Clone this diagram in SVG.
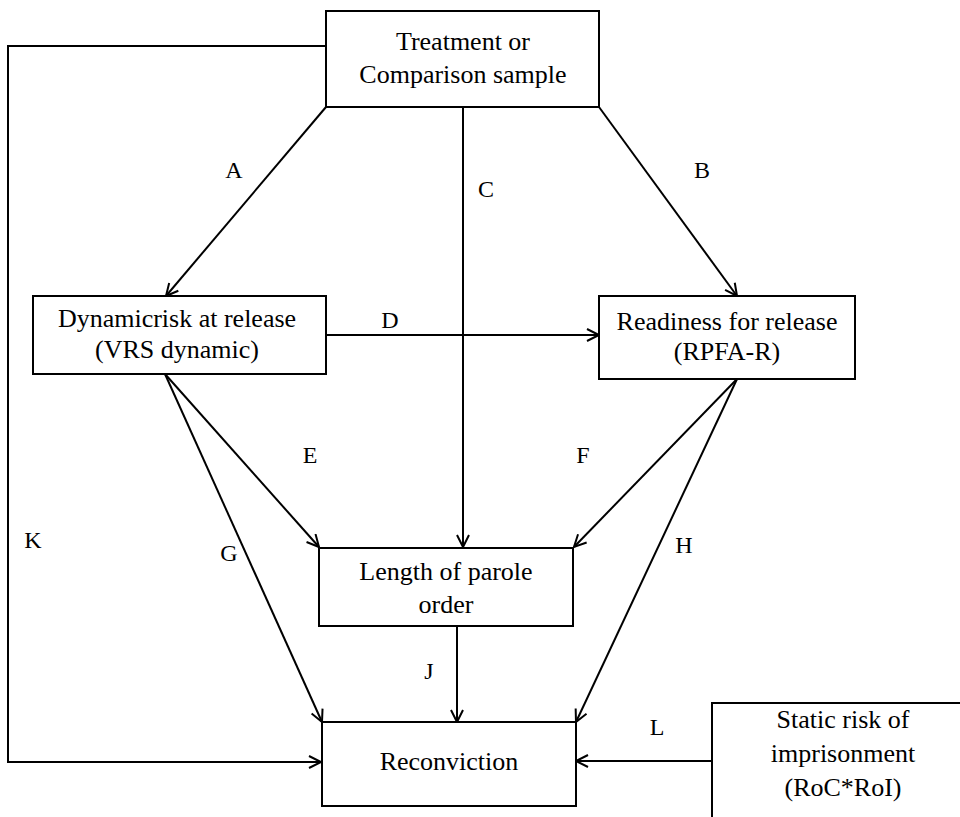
<svg xmlns="http://www.w3.org/2000/svg" width="960" height="817" viewBox="0 0 960 817">
<style>
.box{fill:#fff;stroke:#000;stroke-width:2}
text{font-family:'Liberation Serif','Times New Roman','DejaVu Serif',serif;fill:#000;text-anchor:middle}
.t{font-size:26px}
.lbl{font-size:24px}
.c{fill:none;stroke:#000;stroke-width:2;marker-end:url(#arr)}
</style>
<defs>
<marker id="arr" markerUnits="userSpaceOnUse" markerWidth="16" markerHeight="16" refX="13" refY="7" orient="auto">
<path d="M1,1 L13,7 L1,13" fill="none" stroke="#000" stroke-width="2"/>
</marker>
</defs>
<rect width="960" height="817" fill="#fff"/>
<g id="connectors" font-family="'Liberation Serif', 'DejaVu Serif', serif">
<polyline class="c" points="326,46 8,46 8,762 321,762"/>
<line class="c" x1="326" y1="107" x2="166" y2="296"/>
<line class="c" x1="599" y1="107" x2="737" y2="296"/>
<line class="c" x1="463" y1="107" x2="463" y2="547"/>
<line class="c" x1="326" y1="335" x2="599" y2="335"/>
<line class="c" x1="165" y1="374" x2="319" y2="547"/>
<line class="c" x1="165" y1="374" x2="322" y2="722"/>
<line class="c" x1="737" y1="379" x2="574" y2="547"/>
<line class="c" x1="737" y1="379" x2="576" y2="722"/>
<line class="c" x1="457" y1="626" x2="457" y2="722"/>
<line class="c" x1="712" y1="761" x2="576" y2="761"/>
<text class="lbl" x="234" y="178">A</text>
<text class="lbl" x="702" y="178">B</text>
<text class="lbl" x="486" y="197">C</text>
<text class="lbl" x="390" y="328">D</text>
<text class="lbl" x="310" y="463">E</text>
<text class="lbl" x="583" y="463">F</text>
<text class="lbl" x="33" y="548">K</text>
<text class="lbl" x="229" y="561">G</text>
<text class="lbl" x="684" y="553">H</text>
<text class="lbl" x="429" y="679">J</text>
<text class="lbl" x="657" y="735">L</text>
</g>
<g id="treatment">
<rect class="box" x="326" y="11" width="273" height="96"/>
<text class="t" x="463" y="50">Treatment or</text>
<text class="t" x="463" y="83">Comparison sample</text>
</g>
<g id="dynamic">
<rect class="box" x="33" y="296" width="293" height="78"/>
<text class="t" x="177" y="327">Dynamicrisk at release</text>
<text class="t" x="177" y="358">(VRS dynamic)</text>
</g>
<g id="readiness">
<rect class="box" x="599" y="296" width="256" height="83"/>
<text class="t" x="727" y="330">Readiness for release</text>
<text class="t" x="727" y="360">(RPFA-R)</text>
</g>
<g id="length">
<rect class="box" x="319" y="548" width="254" height="78"/>
<text class="t" x="446" y="580">Length of parole</text>
<text class="t" x="446" y="613">order</text>
</g>
<g id="reconviction">
<rect class="box" x="322" y="722" width="254" height="84"/>
<text class="t" x="449" y="770">Reconviction</text>
</g>
<g id="static">
<rect class="box" x="712" y="703" width="262" height="130"/>
<text class="t" x="843" y="728">Static risk of</text>
<text class="t" x="843" y="762">imprisonment</text>
<text class="t" x="843" y="796">(RoC*RoI)</text>
</g>
</svg>
